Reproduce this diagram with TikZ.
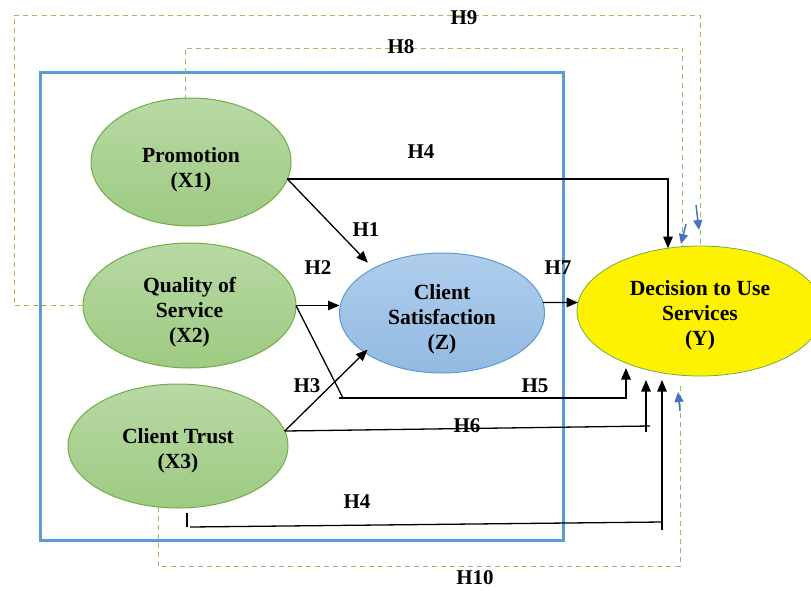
\documentclass[tikz,border=0pt]{standalone}
\usepackage{fontspec}
\setmainfont{Liberation Serif}
\usetikzlibrary{shapes.geometric,arrows.meta,calc}
\definecolor{gtop}{RGB}{184,217,164}
\definecolor{gbot}{RGB}{158,202,130}
\definecolor{gline}{RGB}{112,173,71}
\definecolor{btop}{RGB}{176,206,236}
\definecolor{bbot}{RGB}{146,186,226}
\definecolor{bline}{RGB}{91,155,213}
\definecolor{dgreen}{RGB}{140,195,100}
\definecolor{arrblue}{RGB}{68,114,196}
\newcommand{\dropto}[1]{\rule{0pt}{#1}}
\begin{document}
\begin{tikzpicture}[x=1pt,y=-1pt,
  txt/.style={font=\fontsize{21.6}{25}\selectfont\bfseries, align=center},
  lab/.style={font=\fontsize{21}{24}\selectfont\bfseries, inner sep=0pt},
  gell/.style={ellipse, draw=gline, line width=1pt, top color=gtop, bottom color=gbot, inner sep=0pt, outer sep=0pt, txt},
  bell/.style={ellipse, draw=bline, line width=1pt, top color=btop, bottom color=bbot, inner sep=0pt, outer sep=0pt, txt},
  yell/.style={ellipse, draw=gline, line width=0.8pt, fill=yellow, inner sep=0pt, outer sep=0pt, txt},
  conn/.style={line width=1.3pt, black},
  arr/.style={conn, -{Triangle[length=11.5pt,width=9.5pt]}},
  dsh/.style={dgreen, line width=1pt, dash pattern=on 5pt off 4pt},
  barr/.style={arrblue, line width=1.5pt, -{Triangle[length=10pt,width=9pt]}},
  frame/.style={bline, line width=3pt}
]
\useasboundingbox (0,0) rectangle (811,590);

% frame
\draw[frame] (40,72) rectangle (563,540);

% nodes
\node[gell, minimum width=200pt, minimum height=128pt] (X1) at (191,162) {\dropto{30pt}Promotion\\(X1)};
\node[gell, minimum width=213pt, minimum height=125pt] (X2) at (189.5,305.5) {\dropto{29pt}Quality of\\Service\\(X2)};
\node[gell, minimum width=220pt, minimum height=124pt] (X3) at (178,446) {\dropto{24pt}Client Trust\\(X3)};
\node[bell, minimum width=205pt, minimum height=120pt] (Z) at (442,313) {\dropto{28pt}Client\\Satisfaction\\(Z)};
\node[yell, minimum width=246pt, minimum height=130pt] (Y) at (700,311) {\dropto{23pt}Decision to Use\\Services\\(Y)};

% coordinates
\coordinate (c9) at (14,15);
\coordinate (c8) at (185,48);
\coordinate (c8s) at (185,100);
\coordinate (c10) at (680,566);
\coordinate (h10t) at (680,383);
\coordinate (h5a) at (343,398);
\coordinate (h5s) at (339,398);
\coordinate (h5t) at (626,368);
\coordinate (h6e) at (650,426);
\coordinate (h6b) at (646,432);
\coordinate (h6t) at (646,380);
\coordinate (h4a) at (187,513);
\coordinate (h4b) at (187,527);
\coordinate (h4c) at (190,527);
\coordinate (h4d) at (662,522);
\coordinate (h4e) at (662,530);
\coordinate (h4t) at (662,380);
\coordinate (b1s) at (686,224);
\coordinate (b1t) at (681,244);
\coordinate (b2s) at (696,205);
\coordinate (b2t) at (699,230);
\coordinate (b3s) at (680,411);
\coordinate (b3t) at (678,392);

% dashed mediation paths
\draw[dsh] (X2.west) -| (c9) -| (Y.north);
\draw[dsh] (c8s) -- (c8) -| (Y.105.6);
\draw[dsh] (X3.-108) |- (c10) -- (h10t);

% solid paths
\draw[arr] (X1.-10) -| (Y.117);
\draw[arr, shorten >=8pt] (X1.-10) -- (Z.147);
\draw[arr] (X2.east) -- (X2.east -| Z.west);
\draw[conn] (X2.east) -- (h5a);
\draw[arr] (h5s) -| (h5t);
\draw[arr, shorten >=-4pt] (X3.8) -- (Z.207);
\draw[conn] (X3.8) -- (h6e);
\draw[arr] (h6b) -- (h6t);
\draw[conn] (h4a) -- (h4b);
\draw[conn] (h4c) -- (h4d);
\draw[arr] (h4e) -- (h4t);
\draw[arr] (Z.6) -- (Y.176);

% blue small arrows
\draw[barr] (b1s) -- (b1t);
\draw[barr] (b2s) -- (b2t);
\draw[barr] (b3s) -- (b3t);

% labels
\node[lab] (L9) at (464,18) {H9};
\node[lab] (L8) at (401,47) {H8};
\node[lab] (L4a) at (421,152) {H4};
\node[lab] (L1) at (366,230) {H1};
\node[lab] (L2) at (318,268) {H2};
\node[lab] (L7) at (558,268) {H7};
\node[lab] (L3) at (307,386) {H3};
\node[lab] (L5) at (535,386) {H5};
\node[lab] (L6) at (467,426) {H6};
\node[lab] (L4b) at (357,502) {H4};
\node[lab] (L10) at (475,578) {H10};
\end{tikzpicture}
\end{document}
